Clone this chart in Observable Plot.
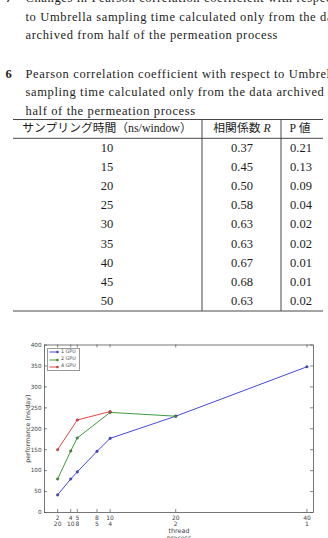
<!DOCTYPE html>
<html><head><meta charset="utf-8">
<script src="https://cdn.jsdelivr.net/npm/d3@7"></script>
<script src="https://cdn.jsdelivr.net/npm/@observablehq/plot@0.6"></script>
<style>
html,body{margin:0;padding:0;background:#fff;}
#page{position:relative;width:328px;height:538px;overflow:hidden;background:#fff;}
#page svg{position:absolute;left:0;}
#legend{position:absolute;left:46.5px;top:347.5px;width:33px;height:23px;border:0.7px solid #999;background:#fff;box-sizing:border-box;font-family:"DejaVu Sans",sans-serif;font-size:4.8px;color:#444;}
.lg{position:absolute;left:1px;height:6px;display:flex;align-items:center;}
.lg span{margin-left:2.5px;line-height:1;}
</style></head>
<body><div id="page"></div>
<script>
// ---------- data ----------
const caption7 = ["Changes in Pearson correlation coefficient with respect",
  "to Umbrella sampling time calculated only from the data",
  "archived from half of the permeation process"];
const caption6 = ["Pearson correlation coefficient with respect to Umbrella",
  "sampling time calculated only from the data archived from",
  "half of the permeation process"];
const headers = ["サンプリング時間（ns/window）", "相関係数 R", "P 値"];
const samplingTime = [10, 15, 20, 25, 30, 35, 40, 45, 50];
const corrR = [0.37, 0.45, 0.50, 0.58, 0.63, 0.63, 0.67, 0.68, 0.63];
const pValue = [0.21, 0.13, 0.09, 0.04, 0.02, 0.02, 0.01, 0.01, 0.02];

const threads = [2, 4, 5, 8, 10, 20, 40];
const processes = [20, 10, 8, 5, 4, 2, 1];
const seriesNames = ["1 GPU", "2 GPU", "4 GPU"];
const seriesColors = ["#4646e0", "#3f9c3f", "#ec4444"];
const gpu1 = [42, 80, 97, 146, 177, 230, 348];
const gpu2 = [80, 147, 178, null, 239, 230, null];
const gpu4 = [150, null, 221, null, 241, null, null];
const yTicks = [0, 50, 100, 150, 200, 250, 300, 350, 400];
const yLabel = "performance (ns/day)";
const xLabel = "thread\nprocess";

// ---------- page text + table ----------
const serif = '"Liberation Serif","Noto Sans CJK JP",serif';
const page = d3.select("#page");
const docSvg = page.append("svg").attr("width", 328).attr("height", 335).style("top", "0px")
  .style("font-family", serif).style("fill", "#1c1c1c");
const fs = 12.5;
// fit letter spacing so "archived from half..." spans the reference width
const probe = docSvg.append("text").attr("font-size", fs).text(caption7[2]);
const w0 = probe.node().getComputedTextLength();
probe.remove();
const ls = (252 - w0) / (caption7[2].length - 1);
function prose(lines, num, y0) {
  docSvg.append("text").attr("x", 5.5).attr("y", y0).attr("font-size", fs).attr("font-weight", "bold").text(num);
  lines.forEach((t, i) => docSvg.append("text").attr("x", 25.5).attr("y", y0 + i * 18.6)
    .attr("font-size", fs).attr("letter-spacing", ls).text(t));
}
prose(caption7, "7", 2);
prose(caption6, "6", 77.5);

const colX = [107, 242, 301];
const rule = (x1, y1, x2, y2) => docSvg.append("line").attr("x1", x1).attr("y1", y1).attr("x2", x2).attr("y2", y2)
  .attr("stroke", "#333").attr("stroke-width", 0.9);
rule(13, 119.5, 323, 119.5);
rule(13, 138.3, 323, 138.3);
rule(13, 311, 323, 311);
rule(202, 119.5, 202, 311);
rule(281, 119.5, 281, 311);
docSvg.append("text").attr("x", colX[0]).attr("y", 131.5).attr("text-anchor", "middle").attr("font-size", 11.8).text(headers[0]);
const h1 = docSvg.append("text").attr("x", colX[1]).attr("y", 131.5).attr("text-anchor", "middle").attr("font-size", 11.8);
h1.append("tspan").text(headers[1].slice(0, -1));
h1.append("tspan").attr("font-style", "italic").text(headers[1].slice(-1));
docSvg.append("text").attr("x", colX[2] - 1).attr("y", 131.5).attr("text-anchor", "middle").attr("font-size", 11.8).text(headers[2]);
samplingTime.forEach((s, i) => {
  const y = 152 + i * 19.1;
  [String(s), corrR[i].toFixed(2), pValue[i].toFixed(2)].forEach((t, j) =>
    docSvg.append("text").attr("x", colX[j]).attr("y", y).attr("text-anchor", "middle").attr("font-size", fs).text(t));
});

// ---------- chart ----------
const W = 328, H = 210, mL = 44, mR = 15, mT = 9.5, mB = 33;
const innerW = W - mL - mR, innerH = H - mT - mB;
const rows = [];
[gpu1, gpu2, gpu4].forEach((arr, k) => arr.forEach((v, i) => {
  if (v != null) rows.push({series: seriesNames[k], thread: threads[i], perf: v});
}));
const tick = 3;
const chart = Plot.plot({
  width: W, height: H, marginLeft: mL, marginRight: mR, marginTop: mT, marginBottom: mB,
  style: {fontFamily: '"DejaVu Sans",sans-serif', fontSize: "6px", color: "#444", background: "transparent", overflow: "visible"},
  x: {domain: [0, 41]},
  y: {domain: [0, 400]},
  color: {domain: seriesNames, range: seriesColors},
  marks: [
    Plot.frame({stroke: "#555", strokeWidth: 0.8}),
    Plot.axisY(yTicks, {tickSize: 0, tickPadding: 3, label: null, fontSize: 5.7}),
    Plot.axisX(threads, {tickSize: 0, tickPadding: 2.5, label: null, fontSize: 6,
      tickFormat: (d) => `${d}\n${processes[threads.indexOf(d)]}`, lineHeight: 1.1}),
    Plot.tickY(yTicks, {y: (d) => d, insetRight: innerW - tick, stroke: "#555", strokeWidth: 0.7}),
    Plot.tickY(yTicks, {y: (d) => d, insetLeft: innerW - tick, stroke: "#555", strokeWidth: 0.7}),
    Plot.tickX(threads, {x: (d) => d, insetTop: innerH - tick, stroke: "#555", strokeWidth: 0.7}),
    Plot.tickX(threads, {x: (d) => d, insetBottom: innerH - tick, stroke: "#555", strokeWidth: 0.7}),
    Plot.line(rows, {x: "thread", y: "perf", z: "series", stroke: "series", strokeWidth: 1}),
    Plot.dot(rows, {x: "thread", y: "perf", fill: "series", r: 1.3, stroke: "#222", strokeWidth: 0.3}),
    Plot.text([yLabel], {frameAnchor: "left", textAnchor: "middle", lineAnchor: "middle", rotate: -90, dx: -17, fontSize: 6.3, fill: "#444"}),
    Plot.text([xLabel], {frameAnchor: "bottom", textAnchor: "middle", dy: 15, lineAnchor: "top", fontSize: 6.4, fill: "#444", lineHeight: 1.15})
  ]
});
d3.select(chart).style("top", "335px");
page.node().appendChild(chart);

// legend (inside the axes, top-left)
const legend = page.append("div").attr("id", "legend");
seriesNames.forEach((n, i) => {
  const row = legend.append("div").attr("class", "lg").style("top", (0.6 + i * 7.4) + "px");
  const s = row.append("svg").attr("width", 10).attr("height", 6).style("position", "static");
  s.append("line").attr("x1", 0.5).attr("x2", 8.5).attr("y1", 3).attr("y2", 3).attr("stroke", seriesColors[i]).attr("stroke-width", 1);
  s.append("circle").attr("cx", 8.5).attr("cy", 3).attr("r", 1.1).attr("fill", seriesColors[i]).attr("stroke", "#222").attr("stroke-width", 0.3);
  row.append("span").text(n);
});
</script></body></html>
